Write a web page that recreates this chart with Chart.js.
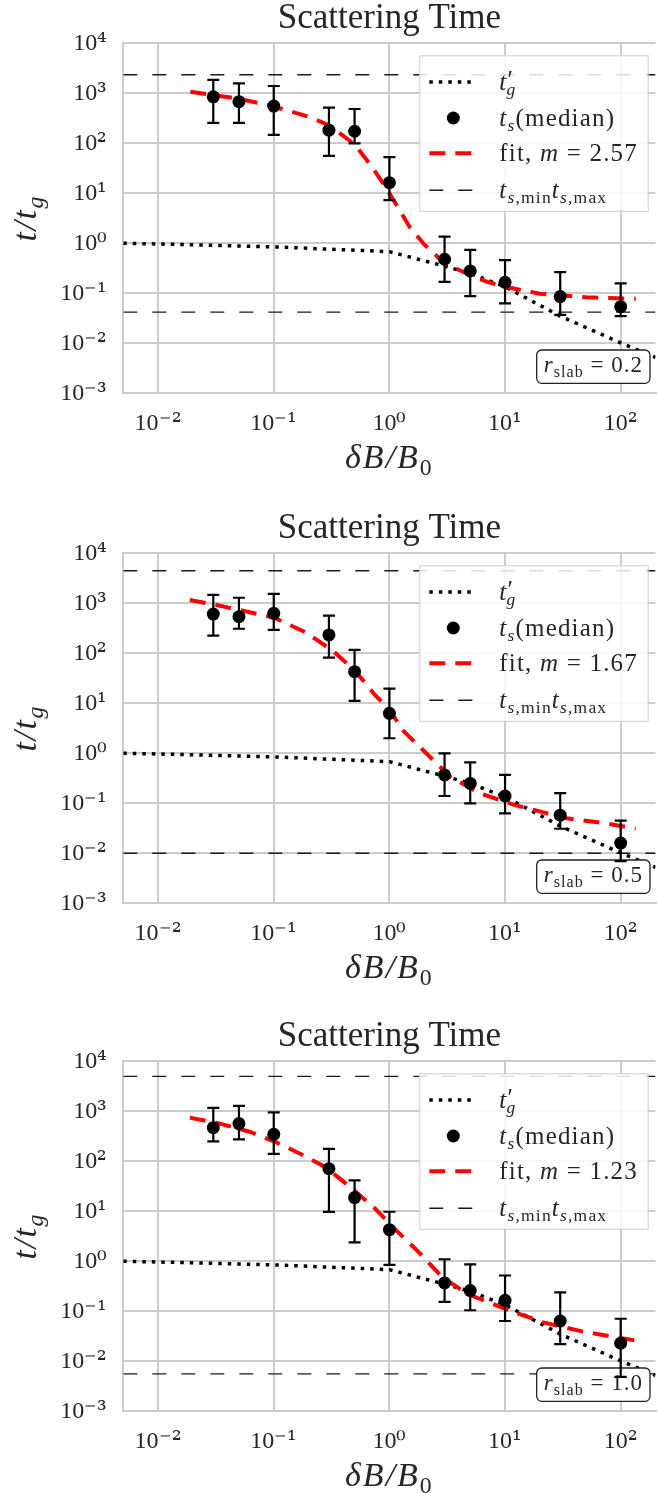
<!DOCTYPE html>
<html><head><meta charset="utf-8">
<script src="https://cdn.jsdelivr.net/npm/chart.js@4.4.1/dist/chart.umd.min.js"></script>
<style>
@font-face { font-family: 'TickSerif'; src: local('DejaVu Serif'), local('DejaVuSerif'); unicode-range: U+2070-209F, U+00B2-00B3, U+00B9; }
html,body{margin:0;padding:0;background:#fff;overflow:hidden;width:658px;height:1493px;position:relative;}
.panel{position:absolute;left:0;}
canvas{display:block;}
</style></head><body>
<div class="panel" style="top:0px"><canvas id="c0" width="662" height="480"></canvas></div>
<div class="panel" style="top:510px"><canvas id="c1" width="662" height="480"></canvas></div>
<div class="panel" style="top:1018px"><canvas id="c2" width="662" height="480"></canvas></div>
<script>
// ---- axis ranges / ticks ----
const xMin = 0.005, xMax = 200;
const yMin = 1e-3, yMax = 1e4;
const xTickValues = [0.01, 0.1, 1, 10, 100];
const xTickLabels = ['10\u207B\u00B2', '10\u207B\u00B9', '10\u2070', '10\u00B9', '10\u00B2'];
const yTickValues = [1e-3, 1e-2, 1e-1, 1, 10, 100, 1000, 10000];
const yTickLabels = ['10\u207B\u00B3', '10\u207B\u00B2', '10\u207B\u00B9', '10\u2070', '10\u00B9', '10\u00B2', '10\u00B3', '10\u2074'];

// ---- data ----
const deltaB = [0.03, 0.05, 0.1, 0.3, 0.5, 1, 3, 5, 10, 30, 100];

const tgX = [0.005, 0.01, 0.1, 1, 3, 5, 10, 30, 100, 200];
const tgY = [1.0, 0.97, 0.85, 0.68, 0.35, 0.25, 0.135, 0.035, 0.0102, 0.0052];

// r_slab = 0.2
const medianR02 = [850, 680, 555, 183, 174, 16.3, 0.48, 0.28, 0.166, 0.086, 0.054];
const lowR02    = [255, 255, 147, 56, 100, 7.3, 0.17, 0.088, 0.063, 0.037, 0.035];
const highR02   = [1860, 1580, 1400, 515, 485, 53, 1.36, 0.74, 0.46, 0.265, 0.158];
const boundsR02 = [0.042, 2350];
const fitXR02 = [0.019, 0.05, 0.1, 0.2, 0.3, 0.5, 0.7, 0.85, 1.0, 1.2, 1.5, 2, 3, 5, 7, 10, 20, 50, 135];
const fitYR02 = [1075, 780, 545, 340, 230, 95, 35, 18, 10, 5, 2.1, 0.95, 0.40, 0.23, 0.17, 0.135, 0.098, 0.083, 0.078];

// r_slab = 0.5
const medianR05 = [610, 540, 630, 233, 43, 6.3, 0.37, 0.25, 0.14, 0.058, 0.016];
const lowR05    = [225, 310, 295, 82, 11.2, 2.0, 0.14, 0.1, 0.063, 0.031, 0.007];
const highR05   = [1480, 1290, 1550, 565, 117, 19.6, 1.0, 0.66, 0.37, 0.16, 0.045];
const boundsR05 = [0.01, 4470];
const fitXR05 = [0.0188, 0.032, 0.1, 0.184, 0.236, 0.33, 0.5, 0.75, 1.0, 1.3, 2.0, 3.35, 6.0, 12, 34, 78, 135];
const fitYR05 = [1165, 925, 520, 270, 185, 108, 46, 14.7, 7.5, 2.9, 1.1, 0.34, 0.16, 0.093, 0.05, 0.039, 0.031];

// r_slab = 1.0
const medianR10 = [471, 567, 347, 71, 18.8, 4.3, 0.37, 0.26, 0.166, 0.064, 0.023];
const lowR10    = [251, 275, 141, 9.7, 2.4, 0.85, 0.155, 0.105, 0.064, 0.022, 0.0049];
const highR10   = [1170, 1280, 955, 178, 41.7, 9.8, 1.1, 0.87, 0.52, 0.24, 0.071];
const boundsR10 = [0.0056, 5000];
const fitXR10 = [0.0188, 0.0324, 0.0627, 0.103, 0.169, 0.279, 0.458, 0.753, 1.14, 1.73, 2.84, 4.67, 9.08, 20.8, 47.9, 135];
const fitYR10 = [747, 585, 386, 244, 142, 77, 30.7, 11.3, 4.2, 1.66, 0.49, 0.225, 0.122, 0.061, 0.039, 0.026];

const slopeLabels = ['2.57', '1.67', '1.23'];
const rSlabLabels = ['0.2', '0.5', '1.0'];
const chartTitle = 'Scattering Time';

// ---- styling ----
const SERIF = '"Liberation Serif", "DejaVu Serif", serif';
const TICKFONT = 'TickSerif, "Liberation Serif", "DejaVu Serif", serif';
const TEXT = '#262626';
const GRID = '#cccccc';
const DOT_DASH = [3.5, 6];
const FIT_DASH = [16, 10];
const HL_DASH = [14, 15];

function segFont(s, size) {
  const sz = s.scale ? size * s.scale : (s.sub || s.sup) ? size * 0.7 : size;
  return (s.it ? 'italic ' : '') + sz + 'px ' + SERIF;
}
function layoutRich(ctx, segs, size, ls) {
  let x = 0, lastStart = 0; const items = [];
  for (const s of segs) {
    ctx.font = segFont(s, size);
    const w = ctx.measureText(s.t).width + (('letterSpacing' in ctx) ? 0 : ls * s.t.length);
    const start = s.stack ? lastStart + (s.stackOff || 0) : x;
    items.push({ s, x: start, w });
    x = Math.max(x, start + w);
    lastStart = start;
  }
  return { items, width: x };
}
function drawRich(ctx, segs, x, y, size, align, color, ls) {
  ls = ls || 0;
  ctx.save();
  if ('letterSpacing' in ctx) ctx.letterSpacing = ls + 'px';
  const L = layoutRich(ctx, segs, size, ls);
  const x0 = align === 'center' ? x - L.width / 2 : align === 'right' ? x - L.width : x;
  ctx.fillStyle = color; ctx.textBaseline = 'alphabetic'; ctx.textAlign = 'left';
  for (const it of L.items) {
    ctx.font = segFont(it.s, size);
    const dy = it.s.dy !== undefined ? it.s.dy * size : it.s.sub ? size * 0.22 : it.s.sup ? -size * 0.36 : 0;
    ctx.fillText(it.s.t, x0 + it.x, y + dy);
  }
  ctx.restore();
}

const panelPlugin = {
  id: 'panelPlugin',
  afterDatasetDraw(chart, args, opts) {
    const ds = chart.data.datasets[args.index];
    const ctx = chart.ctx, ca = chart.chartArea;
    const xs = chart.scales.x, ys = chart.scales.y;
    if (ds.label === 'tg') {
      const bx = ca.left + 413.4, by = ca.top + 306.7, bw = 113.3, bh = 33.3;
      ctx.save();
      ctx.beginPath();
      ctx.roundRect(bx, by, bw, bh, 5);
      ctx.fillStyle = '#ffffff'; ctx.fill();
      ctx.lineWidth = 1.3; ctx.strokeStyle = '#222'; ctx.stroke();
      ctx.restore();
      drawRich(ctx, [{ t: 'r', it: 1 }, { t: 'slab', sub: 1 }, { t: ' = ' + opts.rslab }],
        bx + bw / 2, ca.top + 328.4, 23, 'center', TEXT, 1.0);
    }
    if (ds.label === 'median') {
      ctx.save();
      ctx.strokeStyle = '#000'; ctx.lineWidth = 2.2;
      deltaB.forEach((xv, i) => {
        const px = xs.getPixelForValue(xv);
        const p1 = ys.getPixelForValue(opts.low[i]);
        const p2 = ys.getPixelForValue(opts.high[i]);
        ctx.beginPath();
        ctx.moveTo(px, p1); ctx.lineTo(px, p2);
        ctx.moveTo(px - 6, p1); ctx.lineTo(px + 6, p1);
        ctx.moveTo(px - 6, p2); ctx.lineTo(px + 6, p2);
        ctx.stroke();
      });
      ctx.restore();
    }
  },
  afterDatasetsDraw(chart, args, opts) {
    const ctx = chart.ctx, ca = chart.chartArea;
    const lx = ca.left + 296, ly = ca.top + 12, lw = 228.4, lh = 155.5;
    ctx.save();
    ctx.fillStyle = 'rgba(255,255,255,0.85)';
    ctx.fillRect(lx, ly, lw, lh);
    ctx.strokeStyle = GRID; ctx.lineWidth = 1;
    ctx.strokeRect(lx + 0.5, ly + 0.5, lw, lh);
    const rows = [26.7, 62.7, 98, 135];
    const h0 = lx + 10, h1 = lx + 53, tx = lx + 80;
    ctx.beginPath(); ctx.setLineDash(DOT_DASH); ctx.lineWidth = 3.5; ctx.strokeStyle = '#000';
    ctx.moveTo(h0, ly + rows[0]); ctx.lineTo(h1, ly + rows[0]); ctx.stroke();
    ctx.setLineDash([]);
    ctx.beginPath(); ctx.fillStyle = '#000'; ctx.arc(lx + 34, ly + rows[1], 6.5, 0, Math.PI * 2); ctx.fill();
    ctx.beginPath(); ctx.setLineDash(FIT_DASH); ctx.lineWidth = 4; ctx.strokeStyle = '#ff0000';
    ctx.moveTo(h0, ly + rows[2]); ctx.lineTo(h1, ly + rows[2]); ctx.stroke();
    ctx.beginPath(); ctx.setLineDash(HL_DASH); ctx.lineWidth = 1.4; ctx.strokeStyle = '#1a1a1a';
    ctx.moveTo(h0, ly + rows[3]); ctx.lineTo(h1, ly + rows[3]); ctx.stroke();
    ctx.restore();
    const fs = 25, off = 7.5, ls = 1.2;
    drawRich(ctx, [{ t: 't', it: 1 }, { t: '\u2032', scale: 1.0, dy: -0.05 }, { t: 'g', it: 1, sub: 1, stack: 1, stackOff: -1 }], tx, ly + rows[0] + off, fs, 'left', TEXT, ls);
    drawRich(ctx, [{ t: 't', it: 1 }, { t: 's', it: 1, sub: 1 }, { t: '(median)' }], tx, ly + rows[1] + off, fs, 'left', TEXT, ls);
    drawRich(ctx, [{ t: 'fit, ' }, { t: 'm', it: 1 }, { t: ' = ' + opts.slope }], tx, ly + rows[2] + off, fs, 'left', TEXT, ls);
    drawRich(ctx, [{ t: 't', it: 1 }, { t: 's', it: 1, sub: 1 }, { t: ',min', sub: 1 }, { t: 't', it: 1 }, { t: 's', it: 1, sub: 1 }, { t: ',max', sub: 1 }], tx, ly + rows[3] + off, fs, 'left', TEXT, ls);
  },
  afterDraw(chart) {
    const ctx = chart.ctx, ca = chart.chartArea;
    drawRich(ctx, [{ t: '\u03B4', it: 1 }, { t: 'B', it: 1 }, { t: '/', it: 1 }, { t: 'B', it: 1 }, { t: '0', sub: 1 }],
      (ca.left + ca.right) / 2, ca.bottom + 74.7, 34, 'center', TEXT, 2);
    ctx.save();
    ctx.translate(36, (ca.top + ca.bottom) / 2);
    ctx.rotate(-Math.PI / 2);
    drawRich(ctx, [{ t: 't', it: 1 }, { t: '/', it: 1 }, { t: 't', it: 1 }, { t: 'g', it: 1, sub: 1 }], 0, 0, 34, 'center', TEXT, 1.5);
    ctx.restore();
  }
};

function makeChart(id, P, k) {
  const pts = (xa, ya) => xa.map((x, i) => ({ x, y: ya[i] }));
  return new Chart(document.getElementById(id), {
    type: 'scatter',
    data: {
      datasets: [
        { label: 'median', type: 'scatter', data: pts(deltaB, P.median), pointRadius: 6.5, pointHoverRadius: 6.5,
          pointBackgroundColor: '#000', pointBorderWidth: 0, order: 1 },
        { label: 'fit', type: 'line', data: pts(P.fitX, P.fitY), borderColor: '#ff0000', borderWidth: 4,
          borderDash: FIT_DASH, pointRadius: 0, fill: false, tension: 0, order: 2 },
        { label: 'tg', type: 'line', data: pts(tgX, tgY), borderColor: '#000', borderWidth: 3.5,
          borderDash: DOT_DASH, pointRadius: 0, fill: false, tension: 0, order: 3 },
        { label: 'tsMin', type: 'line', data: pts([xMin, xMax], [P.bounds[0], P.bounds[0]]), borderColor: '#1a1a1a',
          borderWidth: 1.4, borderDash: HL_DASH, pointRadius: 0, fill: false, order: 4 },
        { label: 'tsMax', type: 'line', data: pts([xMin, xMax], [P.bounds[1], P.bounds[1]]), borderColor: '#1a1a1a',
          borderWidth: 1.4, borderDash: HL_DASH, pointRadius: 0, fill: false, order: 5 }
      ]
    },
    options: {
      responsive: false, animation: false, devicePixelRatio: 1,
      layout: { padding: { left: 0, right: 2.6, top: 0, bottom: 0 } },
      events: [],
      plugins: {
        legend: { display: false }, tooltip: { enabled: false },
        title: { display: true, text: chartTitle, color: TEXT, fullSize: false,
          font: { family: SERIF, size: 35, weight: 'normal', lineHeight: 1.0 }, padding: { top: 1.5, bottom: 6.8 } },
        panelPlugin: { low: P.low, high: P.high, slope: slopeLabels[k], rslab: rSlabLabels[k] }
      },
      scales: {
        x: {
          type: 'logarithmic', position: 'bottom', min: xMin, max: xMax,
          afterBuildTicks: s => { s.ticks = xTickValues.map(v => ({ value: v })); },
          afterFit: s => { s.height = 86.7; },
          grid: { color: GRID, lineWidth: 2, drawTicks: false },
          border: { display: true, color: GRID, width: 2 },
          ticks: { autoSkip: false, maxRotation: 0, minRotation: 0, padding: 16, color: TEXT,
            font: { family: TICKFONT, size: 24 }, callback: (v, i) => xTickLabels[i] }
        },
        y: {
          type: 'logarithmic', position: 'left', min: yMin, max: yMax,
          afterBuildTicks: s => { s.ticks = yTickValues.map(v => ({ value: v })); },
          afterFit: s => { s.width = 123.3; },
          grid: { color: GRID, lineWidth: 2, drawTicks: false },
          border: { display: true, color: GRID, width: 2 },
          ticks: { autoSkip: false, padding: 16, color: TEXT,
            font: { family: TICKFONT, size: 24 }, callback: (v, i) => yTickLabels[i] }
        }
      }
    },
    plugins: [panelPlugin]
  });
}

function build() {
  makeChart('c0', { median: medianR02, low: lowR02, high: highR02, bounds: boundsR02, fitX: fitXR02, fitY: fitYR02 }, 0);
  makeChart('c1', { median: medianR05, low: lowR05, high: highR05, bounds: boundsR05, fitX: fitXR05, fitY: fitYR05 }, 1);
  makeChart('c2', { median: medianR10, low: lowR10, high: highR10, bounds: boundsR10, fitX: fitXR10, fitY: fitYR10 }, 2);
}
let built = false;
function once() { if (!built) { built = true; build(); } }
if (document.fonts && document.fonts.load) {
  Promise.all([
    document.fonts.load('24px TickSerif', '\u2074\u207B\u00B2'),
    document.fonts.load('24px "Liberation Serif"', '10'),
    document.fonts.load('italic 25px "Liberation Serif"', 't')
  ]).then(once, once);
  setTimeout(once, 1500);
} else { once(); }
</script>
</body></html>
